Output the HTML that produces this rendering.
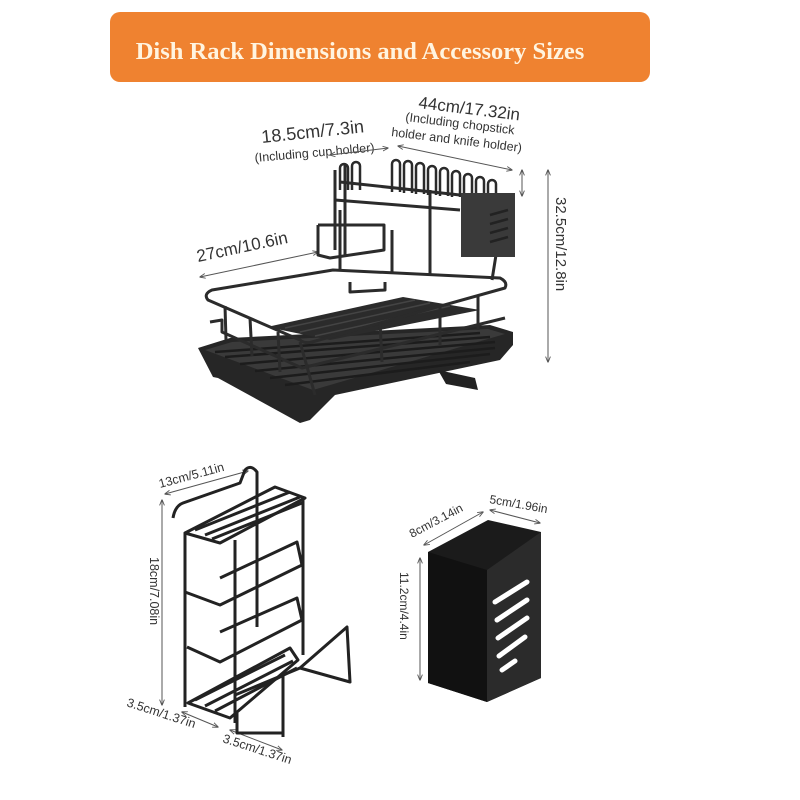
<!DOCTYPE html>
<html><head><meta charset="utf-8"><style>
html,body{margin:0;padding:0;background:#fff;width:800px;height:800px;overflow:hidden}
svg{display:block}
.t{font-family:"Liberation Sans",sans-serif;fill:#333}
</style></head><body>
<svg width="800" height="800" viewBox="0 0 800 800" xmlns="http://www.w3.org/2000/svg">
<defs><marker id="a" viewBox="0 0 10 10" refX="9" refY="5" markerWidth="6" markerHeight="6" orient="auto-start-reverse"><path d="M0,1 L10,5 L0,9" fill="none" stroke="#555" stroke-width="1.5"/></marker></defs>
<rect x="110" y="12" width="540" height="70" rx="10" fill="#ef8230"/>
<text x="360" y="59" text-anchor="middle" font-family="Liberation Serif,serif" font-weight="bold" font-size="24.5" fill="#fff4e0">Dish Rack Dimensions and Accessory Sizes</text>

<!-- main rack labels -->
<text class="t" x="262" y="143" font-size="18" transform="rotate(-6 262 143)">18.5cm/7.3in</text>
<text class="t" x="255" y="162" font-size="12.5" transform="rotate(-5 255 162)">(Including cup holder)</text>
<text class="t" x="418" y="108" font-size="17" transform="rotate(7 418 108)">44cm/17.32in</text>
<text class="t" x="405" y="121" font-size="12.5" transform="rotate(7 405 121)">(Including chopstick</text>
<text class="t" x="391" y="136" font-size="12.5" transform="rotate(7 391 136)">holder and knife holder)</text>
<text class="t" x="198" y="262" font-size="17" transform="rotate(-12 198 262)">27cm/10.6in</text>
<text class="t" x="556" y="197" font-size="15" transform="rotate(90 556 197)">32.5cm/12.8in</text>
<g stroke="#555" stroke-width="1" fill="none">
<line x1="330" y1="155" x2="388" y2="148" marker-start="url(#a)" marker-end="url(#a)"/>
<line x1="398" y1="146" x2="512" y2="170" marker-start="url(#a)" marker-end="url(#a)"/>
<line x1="522" y1="170" x2="522" y2="196" marker-start="url(#a)" marker-end="url(#a)"/>
<line x1="548" y1="170" x2="548" y2="362" marker-start="url(#a)" marker-end="url(#a)"/>
<line x1="200" y1="277" x2="318" y2="252" marker-start="url(#a)" marker-end="url(#a)"/>
</g>

<!-- tray -->
<polygon points="198,348 213,377 218,378 300,423 310,420 335,395 500,360 513,345 513,332 490,325 230,338" fill="#262626"/>
<polygon points="205,350 232,342 488,329 505,334 313,390" fill="#3a3a3a"/>
<g stroke="#1c1c1c" stroke-width="2.5"><line x1="215" y1="352" x2="480" y2="333"/><line x1="225" y1="357" x2="490" y2="337"/><line x1="240" y1="364" x2="495" y2="342"/><line x1="255" y1="371" x2="495" y2="348"/><line x1="270" y1="378" x2="490" y2="354"/><line x1="285" y1="385" x2="470" y2="362"/></g>
<polygon points="438,370 475,378 478,390 446,384" fill="#222"/>
<!-- basket floor -->
<polygon points="267,327 403,297 480,310 330,340" fill="#2b2b2b"/>
<g stroke="#444" stroke-width="1.5"><line x1="285" y1="328" x2="415" y2="300"/><line x1="300" y1="332" x2="430" y2="303"/><line x1="315" y1="336" x2="450" y2="306"/></g>
<g stroke="#2b2b2b" stroke-width="3" fill="none" stroke-linejoin="round">
<path d="M212,290 L333,270 L500,278 Q508,282 505,288 L312,342 Q305,344 300,340 L208,300 Q203,294 212,290 Z"/>
<polyline points="210,322 222,320 222,332 302,368 505,318"/>
<line x1="300" y1="342" x2="315" y2="395"/>
<line x1="278" y1="332" x2="280" y2="372"/>
<line x1="250" y1="318" x2="252" y2="356"/>
<line x1="225" y1="306" x2="226" y2="340"/>
<line x1="380" y1="322" x2="382" y2="362"/>
<line x1="440" y1="305" x2="440" y2="345"/>
<line x1="478" y1="295" x2="478" y2="330"/>
<line x1="340" y1="270" x2="340" y2="210"/>
<line x1="392" y1="272" x2="392" y2="230"/>
<line x1="430" y1="275" x2="430" y2="190"/>
<line x1="492" y1="280" x2="496" y2="255"/>
<polyline points="335,170 335,250"/>
<polyline points="345,165 345,255"/>
<polyline points="318,225 318,255 330,258 384,250 384,225 318,225"/>
<line x1="340" y1="182" x2="460" y2="195"/>
<line x1="335" y1="200" x2="460" y2="210"/>
<polyline points="350,282 350,292 385,290 385,282"/>
</g>
<g stroke="#2b2b2b" stroke-width="2.5" fill="none">
<path d="M340,190 v-22 a4,4 0 0 1 8,0 v22 M352,190 v-24 a4,4 0 0 1 8,0 v24 M392,192 v-28 a4,4 0 0 1 8,0 v28 M404,193 v-28 a4,4 0 0 1 8,0 v28 M416,194 v-27 a4,4 0 0 1 8,0 v27 M428,195 v-25 a4,4 0 0 1 8,0 v25 M440,196 v-24 a4,4 0 0 1 8,0 v24 M452,197 v-22 a4,4 0 0 1 8,0 v22 M464,198 v-20 a4,4 0 0 1 8,0 v20 M476,199 v-18 a4,4 0 0 1 8,0 v18 M488,200 v-16 a4,4 0 0 1 8,0 v16"/>
</g>
<rect x="461" y="193" width="54" height="64" fill="#3a3a3a"/>
<g stroke="#222" stroke-width="2.5"><line x1="490" y1="215" x2="508" y2="210"/><line x1="490" y1="224" x2="508" y2="219"/><line x1="490" y1="233" x2="508" y2="228"/><line x1="490" y1="242" x2="508" y2="237"/></g>

<!-- sponge holder -->
<text class="t" x="160" y="488" font-size="12.5" transform="rotate(-15 160 488)">13cm/5.11in</text>
<text class="t" x="150" y="557" font-size="12.5" transform="rotate(90 150 557)">18cm/7.08in</text>
<text class="t" x="126" y="706" font-size="12.5" transform="rotate(18 126 706)">3.5cm/1.37in</text>
<text class="t" x="222" y="742" font-size="12.5" transform="rotate(18 222 742)">3.5cm/1.37in</text>
<g stroke="#555" stroke-width="1" fill="none">
<line x1="165" y1="494" x2="248" y2="471" marker-start="url(#a)" marker-end="url(#a)"/>
<line x1="162" y1="500" x2="162" y2="705" marker-start="url(#a)" marker-end="url(#a)"/>
<line x1="182" y1="712" x2="218" y2="727" marker-start="url(#a)" marker-end="url(#a)"/>
<line x1="230" y1="730" x2="282" y2="750" marker-start="url(#a)" marker-end="url(#a)"/>
</g>
<g stroke="#222" stroke-width="3" fill="none" stroke-linejoin="round">
<path d="M173,518 q2,-12 10,-15 L240,483 L245,470 q6,-6 12,2 L257,627"/>
<polygon points="185,533 220,543 305,498 275,487"/>
<line x1="185" y1="533" x2="185" y2="707"/>
<line x1="235" y1="540" x2="235" y2="723"/>
<line x1="303" y1="500" x2="303" y2="655"/>
<polyline points="185,592 220,605 302,565 297,542 220,578"/>
<polyline points="187,647 220,662 302,620 297,598 220,632"/>
<polygon points="188,703 230,718 298,660 290,648"/>
<path d="M237,713 v20 l46,-0 M283,737 v-64"/>
<polyline points="235,695 300,668 347,627 350,682 300,668"/>
<path d="M195,530 l95,-38 M205,535 l95,-38 M212,539 l90,-36"/>
<path d="M195,700 l90,-45 M205,706 l88,-45 M215,711 l82,-43"/>
</g>

<!-- utensil cup -->
<text class="t" x="412" y="538" font-size="12" transform="rotate(-28 412 538)">8cm/3.14in</text>
<text class="t" x="489" y="503" font-size="12" transform="rotate(10 489 503)">5cm/1.96in</text>
<text class="t" x="400" y="572" font-size="12" transform="rotate(90 400 572)">11.2cm/4.4in</text>
<g stroke="#555" stroke-width="1" fill="none">
<line x1="424" y1="545" x2="483" y2="512" marker-start="url(#a)" marker-end="url(#a)"/>
<line x1="490" y1="510" x2="540" y2="523" marker-start="url(#a)" marker-end="url(#a)"/>
<line x1="420" y1="558" x2="420" y2="680" marker-start="url(#a)" marker-end="url(#a)"/>
</g>
<polygon points="428,552 488,520 541,532 541,678 487,702 428,683" fill="#1b1b1b"/>
<polygon points="428,552 487,570 487,702 428,683" fill="#111"/>
<polygon points="487,570 541,532 541,678 487,702" fill="#2b2b2b"/>
<g stroke="#fff" stroke-width="5" stroke-linecap="round"><line x1="495" y1="602" x2="527" y2="582"/><line x1="497" y1="620" x2="527" y2="600"/><line x1="498" y1="638" x2="527" y2="618"/><line x1="499" y1="656" x2="525" y2="637"/><line x1="502" y1="670" x2="515" y2="661"/></g>
</svg>
</body></html>
